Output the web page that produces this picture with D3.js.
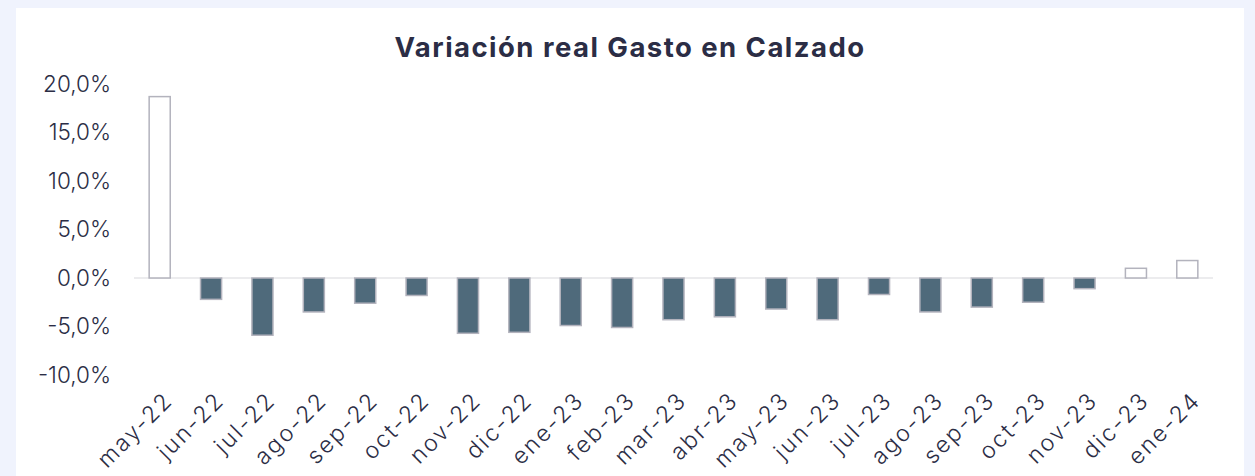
<!DOCTYPE html>
<html>
<head>
<meta charset="utf-8">
<script src="https://cdn.jsdelivr.net/npm/d3@7"></script>
<style>
  body { margin: 0; background: #f0f3fd; }
  svg { display: block; }
  .tick text { font-family: Inter, "Noto Sans", sans-serif; fill: #2b2d45; }
</style>
</head>
<body>
<div id="chart"></div>
<script>
'use strict';

// data
const months = ['may-22', 'jun-22', 'jul-22', 'ago-22', 'sep-22', 'oct-22', 'nov-22', 'dic-22',
  'ene-23', 'feb-23', 'mar-23', 'abr-23', 'may-23', 'jun-23', 'jul-23', 'ago-23', 'sep-23',
  'oct-23', 'nov-23', 'dic-23', 'ene-24'];
const variacion = [18.7, -2.2, -5.9, -3.5, -2.6, -1.8, -5.7, -5.6, -4.9, -5.1, -4.3, -4.0, -3.2,
  -4.3, -1.7, -3.5, -3.0, -2.5, -1.1, 1.0, 1.8];
const yTicks = [20, 15, 10, 5, 0, -5, -10];

const width = 1255, height = 476;
const margin = {top: 84, left: 134, right: 42, bottom: 101};

const svg = d3.select('#chart').append('svg')
  .attr('width', width)
  .attr('height', height);

// white panel
svg.append('rect')
  .attr('x', 16).attr('y', 8)
  .attr('width', 1228).attr('height', height - 8)
  .attr('fill', '#fff');

const title = svg.append('text')
  .attr('x', 630).attr('y', 57)
  .attr('text-anchor', 'middle')
  .style('font-family', 'Inter, "Noto Sans", sans-serif')
  .style('font-weight', 700)
  .style('font-size', '27.5px')
  .style('fill', '#2b2d45')
  .text('Variación real Gasto en Calzado');
// the original font is wider, stretch to its width
const tw = title.node().getComputedTextLength();
title.style('letter-spacing', ((471 - tw) / 31) + 'px');

const x = d3.scaleBand()
  .domain(months)
  .range([margin.left, width - margin.right])
  .paddingInner(0.59)
  .paddingOuter(0.295);

const y = d3.scaleLinear()
  .domain([-10, 20])
  .range([height - margin.bottom, margin.top]);

// y axis, labels only
const yAxis = svg.append('g')
  .attr('transform', 'translate(111,0)')
  .call(d3.axisLeft(y).tickValues(yTicks).tickSize(0).tickPadding(0)
    .tickFormat(d => d3.format('.1f')(d).replace('.', ',').replace('−', '-') + '%'));
yAxis.select('.domain').remove();
yAxis.selectAll('text').style('font-size', '22.5px').style('font-weight', 300);

// zero line
svg.append('line')
  .attr('x1', margin.left).attr('x2', width - margin.right)
  .attr('y1', y(0)).attr('y2', y(0))
  .style('stroke', '#ececee')
  .style('stroke-width', '2px');

// bars
svg.append('g')
  .selectAll('rect')
  .data(variacion)
  .enter()
  .append('rect')
  .attr('x', (d, i) => x(months[i]))
  .attr('width', x.bandwidth())
  .attr('y', d => y(Math.max(0, d)))
  .attr('height', d => Math.abs(y(d) - y(0)))
  .attr('fill', d => d < 0 ? '#4f6a7b' : '#fff')
  .style('stroke', '#b3b3bd')
  .style('stroke-width', '1.5px');

// x axis, rotated labels
const xAxis = svg.append('g')
  .attr('transform', `translate(0,${y(-10) + 21})`)
  .call(d3.axisBottom(x).tickSize(0).tickPadding(0));
xAxis.select('.domain').remove();
xAxis.selectAll('text')
  .style('font-size', '23px')
  .style('font-weight', 300)
  .style('letter-spacing', '2.2px')
  .attr('text-anchor', 'end')
  .attr('dy', '0.35em')
  .attr('transform', 'translate(9,0) rotate(-45)');
</script>
</body>
</html>
